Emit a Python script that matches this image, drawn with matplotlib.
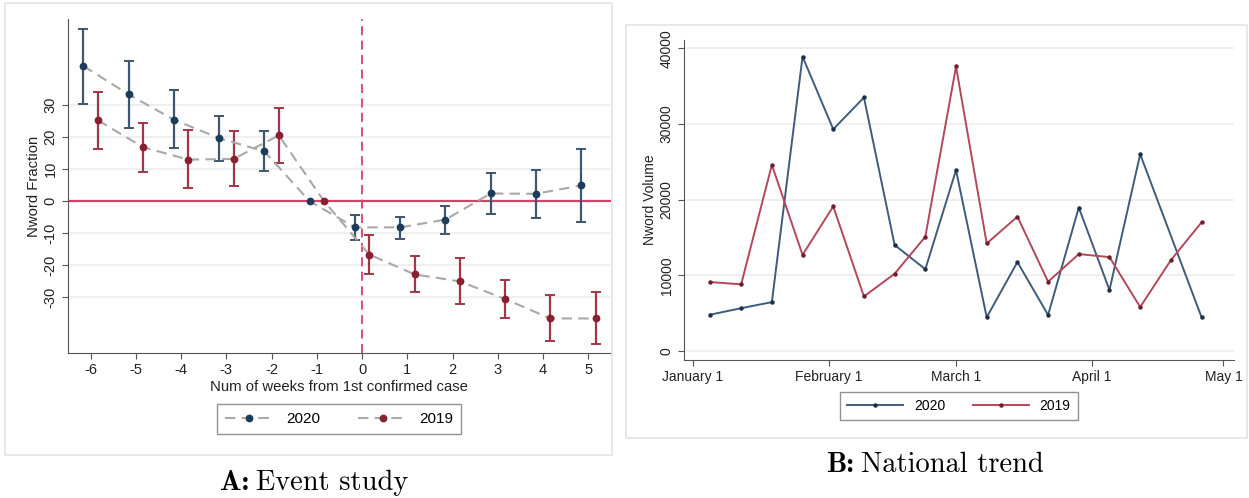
import matplotlib
matplotlib.use("Agg")
import matplotlib.pyplot as plt
from matplotlib.patches import Rectangle
import pandas as pd

plt.rcParams['font.family'] = ['Liberation Sans', 'DejaVu Sans']
plt.rcParams['axes.unicode_minus'] = False

# ---- panel A: event study ----
weeks = [-6, -5, -4, -3, -2, -1, 0, 1, 2, 3, 4, 5]
est_2020 = [42.3, 33.4, 25.5, 19.7, 15.6, 0, -8.2, -8.2, -5.8, 2.4, 2.3, 4.9]
hi_2020 = [53.8, 44.0, 34.7, 26.8, 22.0, 0, -4.3, -4.9, -1.5, 8.9, 9.7, 16.4]
lo_2020 = [30.5, 22.9, 16.7, 12.5, 9.5, 0, -12.0, -11.8, -10.2, -4.0, -5.2, -6.5]
est_2019 = [25.3, 16.9, 13.0, 13.2, 20.6, 0, -16.7, -22.9, -25.1, -30.6, -36.7, -36.7]
hi_2019 = [34.3, 24.6, 22.2, 21.8, 29.3, 0, -10.7, -17.3, -17.8, -24.6, -29.4, -28.5]
lo_2019 = [16.4, 9.1, 4.0, 4.7, 11.9, 0, -22.8, -28.5, -32.2, -36.4, -43.6, -44.6]

# ---- panel B: national trend ----
week_dates = ["2020-01-05", "2020-01-12", "2020-01-19", "2020-01-26", "2020-02-02",
              "2020-02-09", "2020-02-16", "2020-02-23", "2020-03-01", "2020-03-08",
              "2020-03-15", "2020-03-22", "2020-03-29", "2020-04-05", "2020-04-12",
              "2020-04-19", "2020-04-26"]
vol_2020 = [4800, 5650, 6450, 38900, 29300, 33500, 14000, 10800, 23900, 4450,
            11750, 4750, 18950, 8050, 26000, None, 4450]
vol_2019 = [9100, 8800, 24600, 12700, 19100, 7200, 10200, 15100, 37600, 14200,
            17750, 9150, 12800, 12400, 5800, 12000, 17000]
month_ticks = ["2020-01-01", "2020-02-01", "2020-03-01", "2020-04-01", "2020-05-01"]
month_labels = ["January 1", "February 1", "March 1", "April 1", "May 1"]

navy = "#1d3c5c"
navy_ci = "#3e566e"
maroon = "#8a1f2f"
maroon_ci = "#a13647"
grey_dash = "#a8a8a8"
zero_red = "#d8406a"
grid_c = "#ececec"

fig = plt.figure(figsize=(12.49, 4.98), dpi=100)

# panel frames
fig.add_artist(Rectangle((0.004, 0.0863), 0.486, 0.9076, transform=fig.transFigure,
                         fill=False, ec="#e4e4e4", lw=1.2))
fig.add_artist(Rectangle((0.5012, 0.1205), 0.4972, 0.8293, transform=fig.transFigure,
                         fill=False, ec="#e4e4e4", lw=1.2))

# ---------- A ----------
axA = fig.add_axes([0.0544, 0.2912, 0.4347, 0.6707])
off = 0.16
x20 = [w - off for w in weeks]
x19 = [w + off for w in weeks]
for i in range(len(weeks)):
    if hi_2020[i] != lo_2020[i]:
        axA.errorbar(x20[i], est_2020[i], yerr=[[est_2020[i] - lo_2020[i]], [hi_2020[i] - est_2020[i]]],
                     fmt='none', ecolor=navy_ci, elinewidth=1.6, capsize=3.5, capthick=1.4, zorder=3)
    if hi_2019[i] != lo_2019[i]:
        axA.errorbar(x19[i], est_2019[i], yerr=[[est_2019[i] - lo_2019[i]], [hi_2019[i] - est_2019[i]]],
                     fmt='none', ecolor=maroon_ci, elinewidth=1.6, capsize=3.5, capthick=1.4, zorder=3)
axA.axhline(0, color=zero_red, lw=1.6, zorder=2)
axA.axvline(0, color=zero_red, lw=1.3, ls=(0, (5, 3)), zorder=2)
axA.plot(x20, est_2020, ls=(0, (5, 3)), color=grey_dash, lw=1.5, marker='o', ms=4.6,
         mfc=navy, mec=navy, label="2020", zorder=4)
axA.plot(x19, est_2019, ls=(0, (5, 3)), color=grey_dash, lw=1.5, marker='o', ms=4.6,
         mfc=maroon, mec=maroon, label="2019", zorder=4)

axA.set_xlim(-6.5, 5.5)
axA.set_ylim(-47.5, 57)
axA.set_xticks(weeks)
axA.set_yticks([-30, -20, -10, 0, 10, 20, 30])
axA.set_yticklabels(["-30", "-20", "-10", "0", "10", "20", "30"], rotation=90, va='center')
axA.grid(axis='y', color=grid_c, lw=1.2)
axA.set_axisbelow(True)
for s in ['top', 'right']:
    axA.spines[s].set_visible(False)
for s in ['left', 'bottom']:
    axA.spines[s].set_color("#555555")
axA.tick_params(colors="#555555", labelcolor="#222222", labelsize=10.5, length=4)
axA.set_xlabel("Num of weeks from 1st confirmed case", fontsize=10.7, color="#222222", labelpad=2)
axA.set_ylabel("Nword Fraction", fontsize=10.7, color="#222222", labelpad=2)
legA = axA.legend(loc='center', bbox_to_anchor=(0.2714, 0.1586), bbox_transform=fig.transFigure,
                  ncol=2, fontsize=11, frameon=True, fancybox=False, edgecolor="#777777",
                  handlelength=3.2, columnspacing=2.5, borderpad=0.5)
legA.get_frame().set_linewidth(1.0)

# ---------- B ----------
axB = fig.add_axes([0.5476, 0.2771, 0.4404, 0.6426])
dates = pd.to_datetime(week_dates)
s20 = pd.Series(vol_2020, index=dates, dtype=float).dropna()
axB.plot(s20.index, s20.values, color="#3f5c7a", lw=1.4, marker='o', ms=2.2,
         mfc="#1d2f45", mec="#1d2f45", label="2020")
axB.plot(dates, vol_2019, color="#b4475a", lw=1.4, marker='o', ms=2.2,
         mfc="#6e1e2c", mec="#6e1e2c", label="2019")
mt = pd.to_datetime(month_ticks)
axB.set_xticks(mt)
axB.set_xticklabels(month_labels)
axB.set_xlim(mt[0] - pd.Timedelta(days=2.05), mt[0] + pd.Timedelta(days=123.4))
axB.set_ylim(-1200, 41100)
axB.set_yticks([0, 10000, 20000, 30000, 40000])
axB.set_yticklabels(["0", "10000", "20000", "30000", "40000"], rotation=90, va='center')
axB.grid(axis='y', color=grid_c, lw=1.2)
axB.set_axisbelow(True)
for s in ['top', 'right']:
    axB.spines[s].set_visible(False)
for s in ['left', 'bottom']:
    axB.spines[s].set_color("#555555")
axB.tick_params(colors="#555555", labelcolor="#222222", labelsize=10, length=4)
axB.set_ylabel("Nword Volume", fontsize=10, color="#222222", labelpad=2)
legB = axB.legend(loc='center', bbox_to_anchor=(0.7678, 0.1847), bbox_transform=fig.transFigure,
                  ncol=2, fontsize=10, frameon=True, fancybox=False, edgecolor="#777777",
                  handlelength=4, columnspacing=2.0, borderpad=0.5)
legB.get_frame().set_linewidth(1.0)

# captions: bold label, then roman text right after it on the same baseline
tA = fig.text(0.176, 0.017, "A:", family="cmb10", fontsize=20.5, ha='left', va='baseline')
tB = fig.text(0.661, 0.052, "B:", family="cmb10", fontsize=20.5, ha='left', va='baseline')
fig.canvas.draw()
W = fig.bbox.width
fig.text((tA.get_window_extent().x1 + 7) / W, 0.017, "Event study", family="cmr10",
         fontsize=20.5, ha='left', va='baseline')
fig.text((tB.get_window_extent().x1 + 7) / W, 0.052, "National trend", family="cmr10",
         fontsize=20.5, ha='left', va='baseline')

fig.savefig("out.png", dpi=100)
